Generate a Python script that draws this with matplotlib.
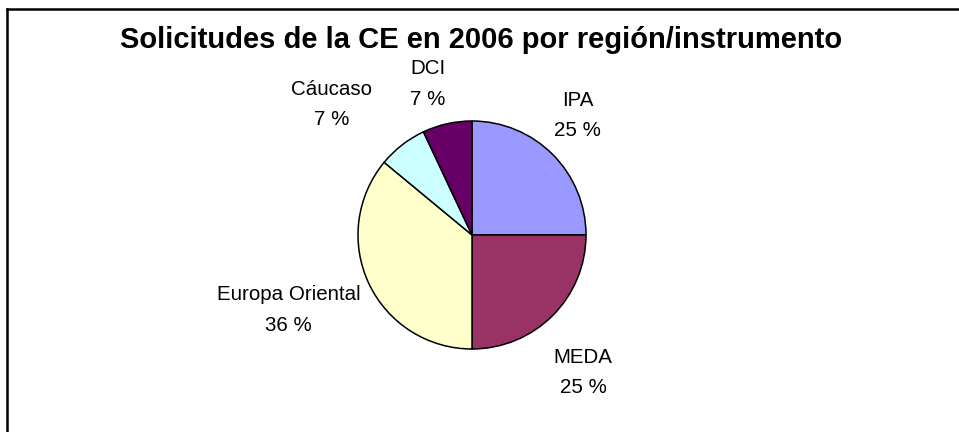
import matplotlib
matplotlib.use("Agg")
import matplotlib.pyplot as plt
from matplotlib.lines import Line2D
import numpy as np

plt.rcParams['font.family'] = ['Liberation Sans', 'DejaVu Sans']

labels = ['IPA', 'MEDA', 'Europa Oriental', 'Cáucaso', 'DCI']
shares = [25, 25, 36, 7, 7]
colors = ['#9999FF', '#993366', '#FFFFCC', '#CCFFFF', '#660066']

# label distance (in radii) and angle tweak (deg) per slice
lab_dist = [1.40, 1.55, 1.74, 1.68, 1.38]
lab_rot = [3.5, -6, -3, 9.3, 3.6]

W, H = 959, 432
fig = plt.figure(figsize=(W / 100, H / 100), dpi=100)
ax = fig.add_axes([0, 0, 1, 1])

cx, cy, r = 472, 235, 114
wedges, texts = ax.pie(shares, colors=colors, startangle=90, counterclock=False,
                       wedgeprops=dict(edgecolor='black', linewidth=1.1),
                       labels=[f'{l}\n{v} %' for l, v in zip(labels, shares)],
                       labeldistance=1.4, textprops=dict(fontsize=14.8, linespacing=1.75))

for w, t, d, rot in zip(wedges, texts, lab_dist, lab_rot):
    ang = np.deg2rad((w.theta1 + w.theta2) / 2 + rot)
    t.set_position((d * np.cos(ang), d * np.sin(ang)))
    t.set_ha('center')
    t.set_va('center')

ax.set_xlim(-cx / r, (W - cx) / r)
ax.set_ylim(-(H - cy) / r, cy / r)
ax.set_aspect('auto')
ax.axis('off')

fig.text(481 / W, 1 - 40 / H, 'Solicitudes de la CE en 2006 por región/instrumento',
         ha='center', va='center', fontsize=21, fontweight='bold')

# chart frame: only top and left edges visible
fig.add_artist(Line2D([7 / W, 1], [1 - 8.5 / H, 1 - 8.5 / H], color='black', lw=1.8,
                      transform=fig.transFigure))
fig.add_artist(Line2D([7 / W, 7 / W], [0, 1 - 8.5 / H], color='black', lw=1.8,
                      transform=fig.transFigure))

fig.savefig('out.png', dpi=100)
